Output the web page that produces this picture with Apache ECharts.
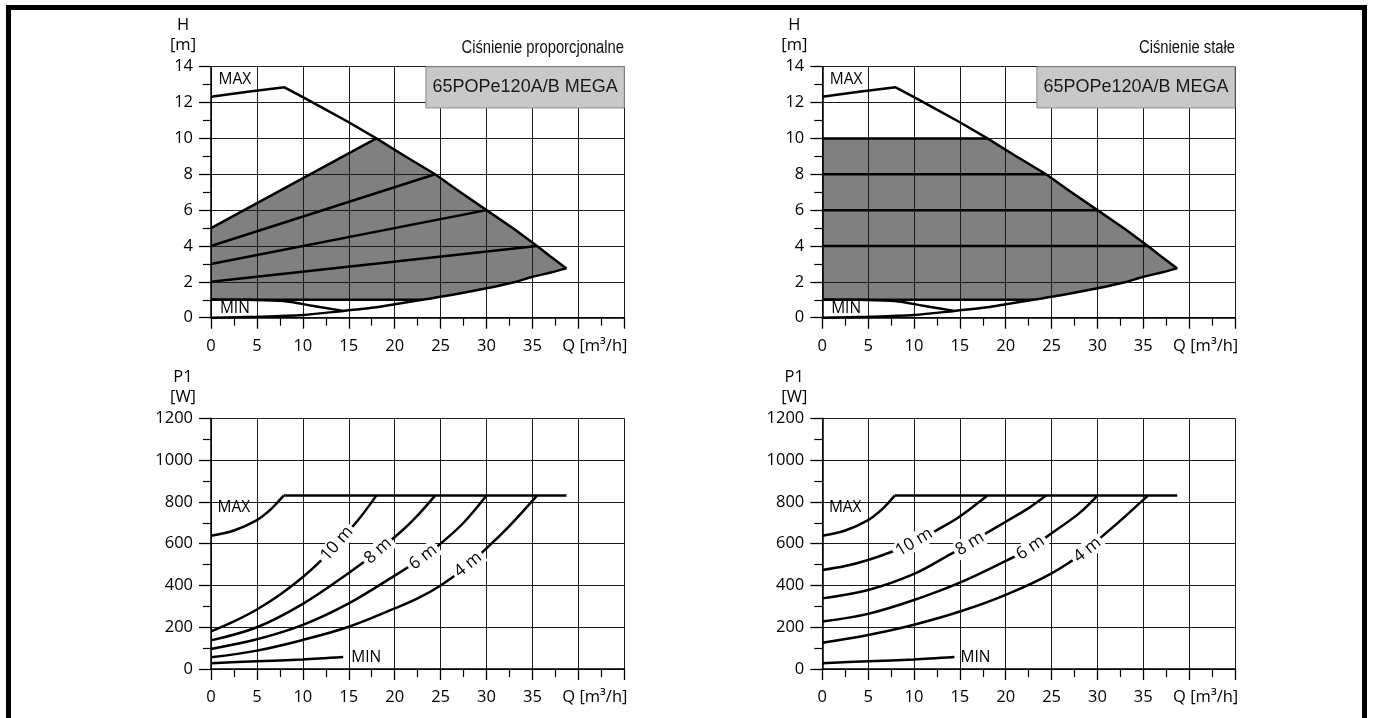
<!DOCTYPE html>
<html><head><meta charset="utf-8">
<script src="https://cdn.jsdelivr.net/npm/echarts@6/dist/echarts.min.js"></script>
<style>html,body{margin:0;padding:0;background:#fff}#c{width:1373px;height:718px}</style>
</head><body><div id="c"></div>
<script>
// ---------------- data ----------------
const qTickLabels = [0, 5, 10, 15, 20, 25, 30, 35];
const qAxisName = 'Q [m³/h]';
const titlesTop = ['Ciśnienie proporcjonalne', 'Ciśnienie stałe'];
const modelName = '65POPe120A/B MEGA';

// H-Q: MAX curve
const maxQ = [0, 4, 8, 10, 12, 15, 18, 21, 24.4, 27, 30, 33, 35.5, 37, 38.7];
const maxH = [12.33, 12.6, 12.85, 12.3, 11.75, 10.9, 10.0, 9.05, 8.0, 7.05, 6.0, 4.95, 4.0, 3.4, 2.75];
// H-Q: lower limit curve (from 0 to tip)
const lowQ = [0, 5, 10, 14.4, 18, 20, 23, 26, 30, 33, 35, 37, 38.7];
const lowH = [0, 0.05, 0.15, 0.38, 0.58, 0.75, 1.0, 1.25, 1.64, 1.98, 2.28, 2.52, 2.75];
// H-Q: MIN curve
const minQ = [0, 4, 7.9, 11, 14.4];
const minH = [1.02, 1.0, 0.93, 0.67, 0.38];
// H-Q: bottom of the control field
const floorH = 1.0;
const floorEndQ = 23;
// proportional-pressure lines (start head at Q=0, end on MAX curve)
const propStartH = [5, 4, 3, 2];
const propEndQ = [18, 24.4, 30, 35.5];
const propEndH = [10, 8, 6, 4];
// constant-pressure lines
const constH = [10, 8, 6, 4];
const constEndQ = [18, 24.4, 30, 35.5];

// P1-Q: MAX
const pMaxQ = [0, 2.5, 5, 6.4, 7.15, 7.9];
const pMaxW = [638, 663, 713, 760, 793, 830];
const pTopW = 830;
const pTopEndQ = 38.7;
// P1-Q: MIN
const pMinQ = [0, 5, 10, 14.4];
const pMinW = [28, 37, 46, 58];
// P1-Q proportional (left)
const curveNames = ['10 m', '8 m', '6 m', '4 m'];
const pProp10Q = [0, 2.5, 5, 7.5, 10, 12, 13.7, 16, 18];
const pProp10W = [180, 228, 285, 355, 440, 520, 600, 712, 830];
const pProp8Q = [0, 5, 10, 15, 18.2, 21, 22.5, 24.4];
const pProp8W = [137, 200, 312, 460, 565, 670, 735, 830];
const pProp6Q = [0, 5, 10, 15, 20, 23.1, 25, 27.5, 30];
const pProp6W = [96, 142, 211, 314, 447, 535, 600, 700, 830];
const pProp4Q = [0, 5, 10, 15, 20, 22.5, 25, 27.5, 30, 32.5, 35.5];
const pProp4W = [56, 88, 139, 202, 290, 338, 400, 480, 578, 685, 830];
// P1-Q constant (right)
const pConst10Q = [0, 2.5, 5, 7.5, 10, 12.5, 15, 18];
const pConst10W = [474, 493, 522, 560, 607, 665, 730, 830];
const pConst8Q = [0, 5, 10, 14, 16.1, 17.5, 20, 22.5, 24.4];
const pConst8W = [338, 378, 455, 550, 600, 640, 705, 770, 830];
const pConst6Q = [0, 5, 10, 15, 20, 22.7, 25, 28, 30];
const pConst6W = [227, 264, 330, 413, 517, 580, 650, 745, 830];
const pConst4Q = [0, 5, 10, 15, 20, 25, 28.9, 30, 32.5, 35.5];
const pConst4W = [126, 163, 212, 275, 355, 458, 570, 615, 710, 830];

// label anchors (Q) and angles for curve names
const propLabelQ = [13.7, 18.2, 23.1, 28.0];
const propLabelRot = [49, 42, 38, 39];
const constLabelQ = [10.0, 16.1, 22.7, 28.9];
const constLabelRot = [31, 32, 34, 39];

// ---------------- helpers ----------------
const FONT = '"Open Sans", "Noto Sans", sans-serif';
const zip = (a, b) => a.map((v, i) => [v, b[i]]);
function interp(qs, vs, q) {
  for (let i = 1; i < qs.length; i++) {
    if (q <= qs[i]) { const t = (q - qs[i-1]) / (qs[i] - qs[i-1]); return vs[i-1] + t * (vs[i] - vs[i-1]); }
  }
  return vs[vs.length - 1];
}
function xAxis(gi) {
  return {
    type: 'value', gridIndex: gi, min: 0, max: 45, interval: 5,
    axisLine: { show: true, onZero: false, lineStyle: { color: '#000', width: 1.5 } },
    axisTick: { show: true, length: 11, lineStyle: { color: '#000', width: 1.3 } },
    minorTick: { show: true, splitNumber: 2, length: 8, lineStyle: { color: '#000', width: 1.2 } },
    splitLine: { show: true, lineStyle: { color: '#1a1a1a', width: 1 } },
    axisLabel: {
      margin: 20, fontSize: 16.5, fontFamily: FONT, color: '#000',
      formatter: v => qTickLabels.includes(v) ? String(v) : (v === 40 ? '{q|' + qAxisName + '}' : ''),
      rich: { q: { fontSize: 16.5, fontFamily: FONT, color: '#000', padding: [0, 0, 0, 33] } }
    }
  };
}
function yAxis(gi, max, interval, name) {
  return {
    type: 'value', gridIndex: gi, min: 0, max: max, interval: interval,
    name: name, nameLocation: 'end', nameGap: 11,
    nameTextStyle: { fontFamily: FONT, fontSize: 16.5, color: '#000', align: 'center', verticalAlign: 'bottom', lineHeight: 20, padding: [0, 56, 0, 0] },
    axisLine: { show: true, onZero: false, lineStyle: { color: '#000', width: 1.5 } },
    axisTick: { show: true, length: 12, lineStyle: { color: '#000', width: 1.3 } },
    minorTick: { show: true, splitNumber: 2, length: 8, lineStyle: { color: '#000', width: 1.2 } },
    splitLine: { show: true, lineStyle: { color: '#1a1a1a', width: 1 } },
    axisLabel: { margin: 18, fontSize: 16.5, fontFamily: FONT, color: '#000', formatter: v => String(v) }
  };
}
function line(gi, data, opts) {
  return Object.assign({
    type: 'line', xAxisIndex: gi, yAxisIndex: gi, data: data, symbol: 'none', silent: true,
    lineStyle: { color: '#000', width: 2.5 }, animation: false, z: 3
  }, opts || {});
}
function fill(gi, polyPts) {
  return {
    type: 'custom', xAxisIndex: gi, yAxisIndex: gi, data: [0], silent: true, z: -1, animation: false,
    renderItem: (params, api) => ({
      type: 'polygon',
      shape: { points: polyPts.map(p => api.coord(p)) },
      style: { fill: '#808080', stroke: 'none' }
    })
  };
}
function textMark(q, v, txt) {
  return {
    coord: [q, v], symbol: 'rect', symbolSize: 1, itemStyle: { color: 'rgba(0,0,0,0)' },
    label: { show: true, position: 'inside', formatter: txt, fontFamily: FONT, fontSize: 15.5, color: '#000' }
  };
}
function curveLabel(q, v, txt, rot) {
  return {
    coord: [q, v], symbol: 'rect', symbolSize: 1, itemStyle: { color: 'rgba(0,0,0,0)' },
    label: { show: true, position: 'inside', formatter: txt, rotate: rot, fontFamily: FONT, fontSize: 17,
             color: '#000', backgroundColor: '#fff', padding: [0, 3, 0, 3], lineHeight: 18 }
  };
}

// control-field polygons
const maxTail = zip(maxQ, maxH).filter(p => p[0] >= 18);
const lowTailRev = zip(lowQ, lowH).filter(p => p[0] >= floorEndQ).reverse();
const propPoly = [[0, propStartH[0]]].concat(maxTail, lowTailRev, [[0, floorH]]);
const constPoly = [[0, constH[0]]].concat(maxTail, lowTailRev, [[0, floorH]]);

const series = [];
// ---- top charts (grid 0: proportional, grid 1: constant)
[0, 1].forEach(gi => {
  series.push(fill(gi, gi === 0 ? propPoly : constPoly));
  series.push(line(gi, zip(maxQ, maxH), {
    markPoint: { silent: true, data: [textMark(2.6, 13.27, 'MAX'), textMark(2.6, 0.5, 'MIN')] },
    markArea: {
      silent: true,
      itemStyle: { color: '#c8c8c8', borderColor: '#8a8a8a', borderWidth: 1, opacity: 1 },
      label: { show: true, position: 'inside', formatter: modelName, fontFamily: '"Liberation Sans", Arial, sans-serif', fontSize: 18, color: '#1a1a1a' },
      data: [[{ coord: [23.4, 14] }, { coord: [45, 11.7] }]]
    }
  }));
  series.push(line(gi, zip(lowQ, lowH), { smooth: 0.3 }));
  series.push(line(gi, zip(minQ, minH), { smooth: 0.3 }));
  series.push(line(gi, [[0, floorH], [floorEndQ, floorH]]));
  if (gi === 0) {
    propStartH.forEach((h, i) => series.push(line(gi, [[0, h], [propEndQ[i], propEndH[i]]])));
  } else {
    constH.forEach((h, i) => series.push(line(gi, [[0, h], [constEndQ[i], h]])));
  }
});
// ---- bottom charts (grid 2: proportional, grid 3: constant)
const propCurves = [[pProp10Q, pProp10W], [pProp8Q, pProp8W], [pProp6Q, pProp6W], [pProp4Q, pProp4W]];
const constCurves = [[pConst10Q, pConst10W], [pConst8Q, pConst8W], [pConst6Q, pConst6W], [pConst4Q, pConst4W]];
[2, 3].forEach(gi => {
  series.push(line(gi, zip(pMaxQ, pMaxW), { smooth: 0.4,
    markPoint: { silent: true, data: [textMark(2.5, 773, 'MAX'), textMark(gi === 2 ? 16.9 : 16.7, 55, 'MIN')] } }));
  series.push(line(gi, [[pMaxQ[pMaxQ.length - 1], pTopW], [pTopEndQ, pTopW]]));
  series.push(line(gi, zip(pMinQ, pMinW), { smooth: 0.3 }));
  const curves = gi === 2 ? propCurves : constCurves;
  const lq = gi === 2 ? propLabelQ : constLabelQ;
  const lr = gi === 2 ? propLabelRot : constLabelRot;
  curves.forEach((c, i) => {
    series.push(line(gi, zip(c[0], c[1]), { smooth: 0.35,
      markPoint: { silent: true, data: [curveLabel(lq[i], interp(c[0], c[1], lq[i]), curveNames[i], lr[i])] } }));
  });
});

const TITLE_FONT = '"Liberation Sans", Arial, sans-serif';
const option = {
  animation: false,
  backgroundColor: '#fff',
  grid: [
    { left: 211, top: 66.7, width: 413.3, height: 251, outerBoundsMode: 'none' },
    { left: 822.3, top: 66.7, width: 412.7, height: 251, outerBoundsMode: 'none' },
    { left: 211, top: 418.3, width: 413.3, height: 250.7, outerBoundsMode: 'none' },
    { left: 822.3, top: 418.3, width: 412.7, height: 250.7, outerBoundsMode: 'none' }
  ],
  xAxis: [xAxis(0), xAxis(1), xAxis(2), xAxis(3)],
  yAxis: [yAxis(0, 14, 2, 'H\n[m]'), yAxis(1, 14, 2, 'H\n[m]'), yAxis(2, 1200, 200, 'P1\n[W]'), yAxis(3, 1200, 200, 'P1\n[W]')],
  graphic: [
    { type: 'rect', silent: true, z: 100,
      shape: { x: 8.5, y: 7.5, width: 1356, height: 800 },
      style: { fill: 'none', stroke: '#000', lineWidth: 5 } },
    { type: 'text', silent: true, x: 624, y: 48, scaleX: 0.82,
      style: { text: titlesTop[0], font: '18px ' + TITLE_FONT, fill: '#111', align: 'right', verticalAlign: 'middle' } },
    { type: 'text', silent: true, x: 1235, y: 48, scaleX: 0.82,
      style: { text: titlesTop[1], font: '18px ' + TITLE_FONT, fill: '#111', align: 'right', verticalAlign: 'middle' } }
  ],
  series: series
};
const chart = echarts.init(document.getElementById('c'), null, { renderer: 'canvas' });
chart.setOption(option);
</script>
</body></html>
